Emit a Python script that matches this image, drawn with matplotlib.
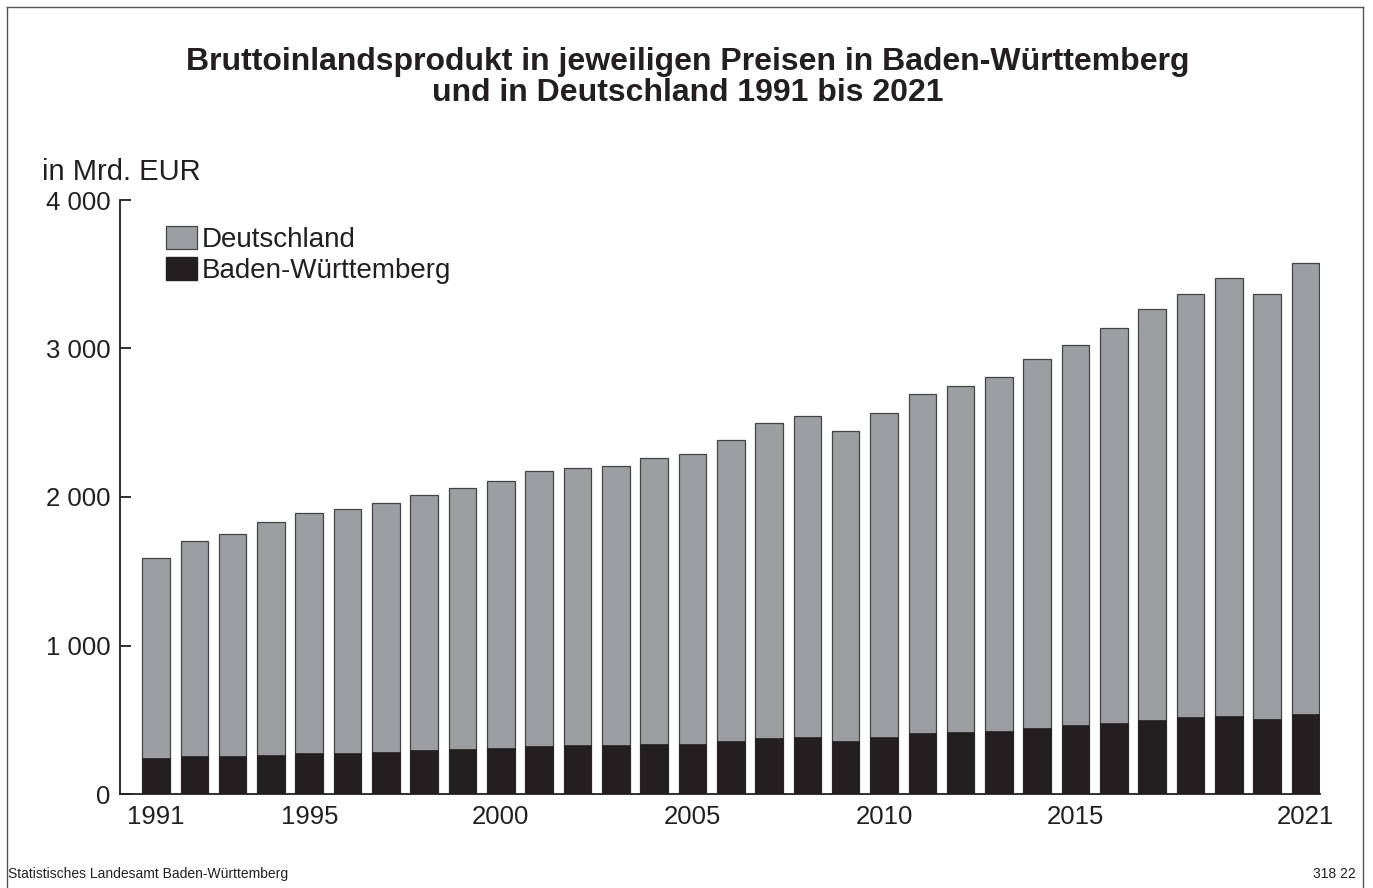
import numpy as np
import matplotlib
matplotlib.use("Agg")
import matplotlib.pyplot as plt
from matplotlib.patches import Patch
from matplotlib.lines import Line2D
from matplotlib.ticker import FuncFormatter

plt.rcParams['font.family'] = ['Liberation Sans', 'DejaVu Sans']

# Werte in Mrd. EUR
years = np.arange(1991, 2022)
deutschland = [1586, 1702, 1751, 1830, 1895, 1921, 1961, 2014, 2060, 2109,
               2173, 2198, 2212, 2263, 2288, 2385, 2500, 2546, 2446, 2564,
               2694, 2745, 2811, 2927, 3026, 3135, 3267, 3366, 3473, 3368,
               3576]
bw = [244, 257, 256, 265, 275, 279, 284, 295, 302, 312,
      322, 328, 332, 337, 340, 356, 378, 384, 358, 385,
      408, 416, 427, 446, 466, 479, 499, 518, 528, 506,
      540]
year_labels = [1991, 1995, 2000, 2005, 2010, 2015, 2021]
y_ticks = [0, 1000, 2000, 3000, 4000]

grey = '#9d9ea2'
black = '#231f20'

W, H = 1373, 888
fig = plt.figure(figsize=(W / 100, H / 100), dpi=100)
ax = fig.add_axes([120 / W, 1 - 794 / H, (1320 - 120) / W, (794 - 200) / H])

ax.bar(years, deutschland, width=0.72, color=grey, edgecolor='#444444', linewidth=0.9, zorder=2)
ax.bar(years, bw, width=0.72, color=black, edgecolor=black, linewidth=0.5, zorder=3)

ax.set_xlim(1990.06, 2021.38)
ax.set_ylim(0, 4000)
for s in ['top', 'right']:
    ax.spines[s].set_visible(False)
for s in ['left', 'bottom']:
    ax.spines[s].set_linewidth(1.3)
    ax.spines[s].set_color('#231f20')

ax.set_yticks(y_ticks)
ax.yaxis.set_major_formatter(FuncFormatter(lambda v, p: f"{int(v):,}".replace(",", " ")))
ax.tick_params(axis='y', direction='in', length=8, width=1.3, pad=7, labelsize=18.5, colors='#231f20')
ax.set_xticks(year_labels)
ax.set_xticklabels([str(y) for y in year_labels])
ax.tick_params(axis='x', length=0, pad=8, labelsize=18.5, colors='#231f20')

fig.text(42 / W, 1 - 172 / H, "in Mrd. EUR", fontsize=21, color='#231f20', va='center', ha='left')

fig.text(688 / W, 1 - 62 / H, "Bruttoinlandsprodukt in jeweiligen Preisen in Baden-Württemberg",
         fontsize=23, fontweight='bold', ha='center', va='center', color='#231f20')
fig.text(688 / W, 1 - 93 / H, "und in Deutschland 1991 bis 2021",
         fontsize=23, fontweight='bold', ha='center', va='center', color='#231f20')

handles = [Patch(facecolor=grey, edgecolor='#444444', linewidth=0.9),
           Patch(facecolor=black, edgecolor=black)]
ax.legend(handles, ["Deutschland", "Baden-Württemberg"], loc='upper left',
          bbox_to_anchor=(166 / W, 1 - 226 / H), bbox_transform=fig.transFigure,
          frameon=False, fontsize=20, handlelength=1.12, handleheight=0.9,
          handletextpad=0.18, labelspacing=0.14, borderaxespad=0, borderpad=0,
          labelcolor='#231f20')

fig.text(8 / W, 1 - 874 / H, "Statistisches Landesamt Baden-Württemberg", fontsize=10,
         color='#231f20', ha='left', va='center')
fig.text(1356 / W, 1 - 874 / H, "318 22", fontsize=10, color='#231f20', ha='right', va='center')

# Rahmen
frame_kw = dict(transform=fig.transFigure, color='#555555', linewidth=1.0)
fig.add_artist(Line2D([7 / W, 7 / W], [0, 1 - 7 / H], **frame_kw))
fig.add_artist(Line2D([7 / W, 1363 / W], [1 - 7 / H, 1 - 7 / H], **frame_kw))
fig.add_artist(Line2D([1363 / W, 1363 / W], [0, 1 - 7 / H], **frame_kw))

fig.savefig("out.png", dpi=100)
